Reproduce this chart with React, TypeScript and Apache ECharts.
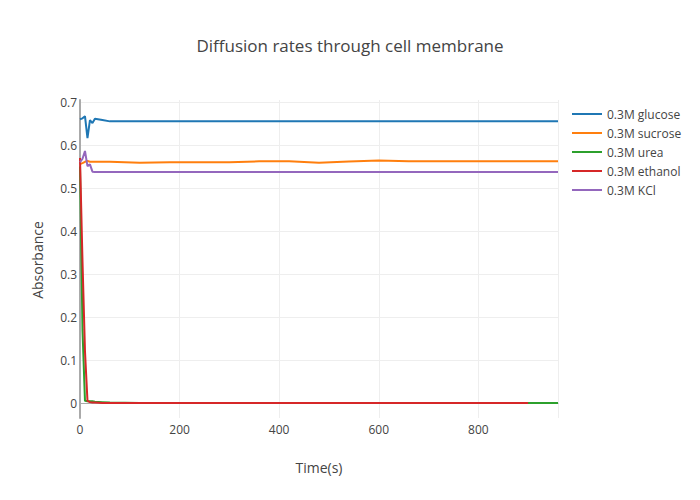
import React, { useEffect, useRef } from "react";
import * as echarts from "echarts";

const times = [0, 5, 10, 15, 20, 25, 30, 45, 60, 120, 180, 240, 300, 360, 420, 480, 540, 600, 660, 720, 780, 840, 900, 960];
const glucose = [0.66, 0.662, 0.667, 0.616, 0.658, 0.651, 0.661, 0.658, 0.655, 0.655, 0.655, 0.655, 0.655, 0.655, 0.655, 0.655, 0.655, 0.655, 0.655, 0.655, 0.655, 0.655, 0.655, 0.655];
const sucrose = [0.556, 0.558, 0.561, 0.563, 0.561, 0.561, 0.561, 0.561, 0.561, 0.559, 0.56, 0.56, 0.56, 0.562, 0.562, 0.559, 0.5615, 0.564, 0.5625, 0.5625, 0.5625, 0.5625, 0.5625, 0.5625];
const urea = [0.55, 0.17, 0.005, 0.004, 0.004, 0.004, 0.003, 0.002, 0.001, 0, 0, 0, 0, 0, 0, 0, 0, 0, 0, 0, 0, 0, 0, 0];
const ethanol = [0.57, 0.33, 0.12, 0.005, 0.002, 0.001, 0.001, 0, 0, 0, 0, 0, 0, 0, 0, 0, 0, 0, 0, 0, 0, 0, 0];
const kcl = [0.56, 0.568, 0.586, 0.551, 0.555, 0.538, 0.537, 0.537, 0.537, 0.537, 0.537, 0.537, 0.537, 0.537, 0.537, 0.537, 0.537, 0.537, 0.537, 0.537, 0.537, 0.537, 0.537, 0.537];

const seriesNames = ["0.3M glucose", "0.3M sucrose", "0.3M urea", "0.3M ethanol", "0.3M KCl"];
const seriesValues = [glucose, sucrose, urea, ethanol, kcl];
const colors = ["#1f77b4", "#ff7f0e", "#2ca02c", "#d62728", "#9467bd"];
const xTicks = [0, 200, 400, 600, 800];

export default function App() {
  const ref = useRef<HTMLDivElement>(null);
  useEffect(() => {
    const chart = echarts.init(ref.current!, null, { renderer: "svg" });
    const font = "'Open Sans', 'Noto Sans', sans-serif";
    chart.setOption({
      animation: false,
      textStyle: { fontFamily: font, color: "#444" },
      title: {
        text: "Diffusion rates through cell membrane",
        left: "center",
        top: 32,
        textStyle: { fontFamily: font, fontSize: 17, fontWeight: "normal", color: "#444" },
      },
      legend: {
        orient: "vertical",
        left: 572,
        top: 106,
        padding: 0,
        itemWidth: 30,
        itemHeight: 2,
        itemGap: 3,
        icon: "rect",
        data: seriesNames,
        textStyle: { fontFamily: font, fontSize: 12, color: "#444", lineHeight: 16 },
      },
      grid: [
        { left: 80, right: 142, top: 100, bottom: 82 },
        { left: 80, right: 142, top: 102, bottom: 97 },
      ],
      xAxis: [
        {
          type: "value",
          gridIndex: 0,
          min: 0,
          max: 960,
          interval: 200,
          axisLine: { show: false },
          axisTick: { show: false },
          axisLabel: {
            fontSize: 12,
            color: "#444",
            margin: 5,
            showMaxLabel: false,
            formatter: (v: number) => (xTicks.includes(v) ? String(v) : ""),
          },
          splitLine: { show: true, lineStyle: { color: "#eee", width: 1 } },
        },
        {
          type: "value",
          gridIndex: 1,
          min: 0,
          max: 960,
          axisLine: { show: true, onZero: false, lineStyle: { color: "#aaa", width: 1 } },
          axisTick: { show: false },
          axisLabel: { show: false },
          splitLine: { show: false },
        },
      ],
      yAxis: [
        {
          type: "value",
          gridIndex: 0,
          min: -0.0349,
          max: 0.7047,
          axisLine: { show: true, lineStyle: { color: "#aaa", width: 2 } },
          axisTick: { show: false },
          axisLabel: { show: false },
          splitLine: { show: false },
        },
        {
          type: "value",
          gridIndex: 1,
          min: 0,
          max: 0.7,
          interval: 0.1,
          axisLine: { show: false },
          axisTick: { show: false },
          axisLabel: {
            fontSize: 12,
            color: "#444",
            margin: 3,
            formatter: (v: number) => String(Math.round(v * 10) / 10),
          },
          splitLine: { show: true, lineStyle: { color: "#eee", width: 1 } },
        },
      ],
      graphic: [
        {
          type: "text",
          x: 319,
          y: 467,
          style: { text: "Time(s)", fontFamily: font, fontSize: 14, fill: "#444", align: "center", verticalAlign: "middle" },
        },
        {
          type: "text",
          x: 37,
          y: 260,
          rotation: Math.PI / 2,
          style: { text: "Absorbance", fontFamily: font, fontSize: 14, fill: "#444", align: "center", verticalAlign: "middle" },
        },
      ],
      series: seriesNames.map((name, i) => ({
        name,
        type: "line",
        xAxisIndex: 0,
        yAxisIndex: 0,
        showSymbol: false,
        symbol: "none",
        clip: false,
        lineStyle: { width: 2, color: colors[i] },
        itemStyle: { color: colors[i] },
        data: seriesValues[i].map((v, j) => [times[j], v]),
      })),
    });
    return () => chart.dispose();
  }, []);
  return <div ref={ref} style={{ position: "absolute", left: 0, top: 0, width: 700, height: 500 }} />;
}
